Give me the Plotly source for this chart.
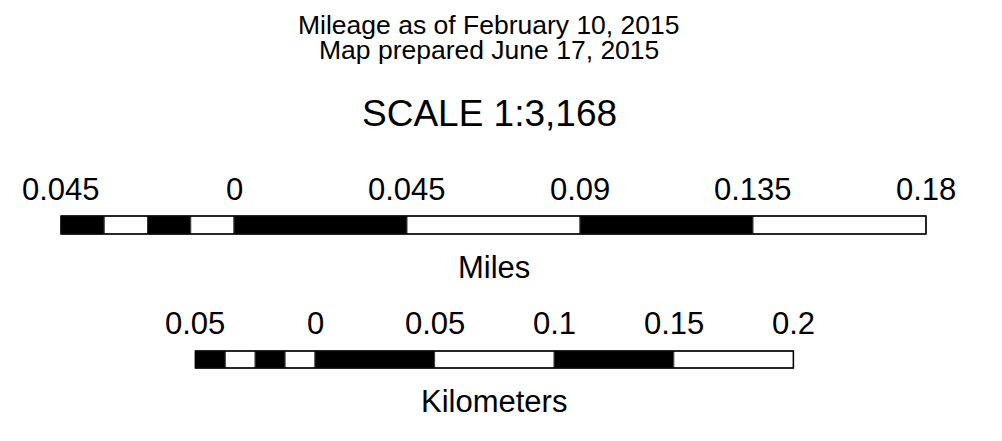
import plotly.graph_objects as go

# ---- data ----
title_lines = ["Mileage as of February 10, 2015", "Map prepared June 17, 2015"]
scale_text = "SCALE 1:3,168"

miles_edges = [-0.045, -0.03375, -0.0225, -0.01125, 0.0, 0.045, 0.09, 0.135, 0.18]
miles_ticks = [-0.045, 0.0, 0.045, 0.09, 0.135, 0.18]
miles_labels = ["0.045", "0", "0.045", "0.09", "0.135", "0.18"]
miles_unit = "Miles"

km_edges = [-0.05, -0.0375, -0.025, -0.0125, 0.0, 0.05, 0.1, 0.15, 0.2]
km_ticks = [-0.05, 0.0, 0.05, 0.1, 0.15, 0.2]
km_labels = ["0.05", "0", "0.05", "0.1", "0.15", "0.2"]
km_unit = "Kilometers"

# ---- layout geometry ----
W, H = 1002, 441
px_per_mile = 3844.4
px_per_km = 2392.0
miles_zero_px = 234.0
km_zero_px = 315.0
mi_r0 = -miles_zero_px / px_per_mile
mi_range = [mi_r0, mi_r0 + W / px_per_mile]
km_r0 = -km_zero_px / px_per_km
km_range = [km_r0, km_r0 + W / px_per_km]

FONT = "Arial, Liberation Sans, sans-serif"

fig = go.Figure()
fig.add_trace(go.Scatter(x=[], y=[], xaxis="x", yaxis="y", showlegend=False))
fig.add_trace(go.Scatter(x=[], y=[], xaxis="x2", yaxis="y", showlegend=False))

shapes = []
annotations = []

def bar(edges, xref, y0, y1):
    for i in range(len(edges) - 1):
        shapes.append(dict(type="rect", xref=xref, yref="y",
                           x0=edges[i], x1=edges[i + 1], y0=y0, y1=y1,
                           fillcolor="black" if i % 2 == 0 else "white",
                           line=dict(color="#333333", width=1), layer="above"))
    shapes.append(dict(type="rect", xref=xref, yref="y",
                       x0=edges[0], x1=edges[-1], y0=y0, y1=y1,
                       fillcolor="rgba(0,0,0,0)",
                       line=dict(color="black", width=1.5), layer="above"))

bar(miles_edges, "x", 216, 234)
bar(km_edges, "x2", 351, 368)

for v, t in zip(miles_ticks, miles_labels):
    annotations.append(dict(x=v, y=189, xref="x", yref="y", text=t, showarrow=False,
                            xanchor="center", yanchor="middle",
                            font=dict(family=FONT, size=31, color="black")))
for v, t in zip(km_ticks, km_labels):
    annotations.append(dict(x=v, y=323.5, xref="x2", yref="y", text=t, showarrow=False,
                            xanchor="center", yanchor="middle",
                            font=dict(family=FONT, size=31, color="black")))

annotations.append(dict(x=(miles_edges[0] + miles_edges[-1]) / 2, y=267, xref="x", yref="y",
                        text=miles_unit, showarrow=False, xanchor="center", yanchor="middle",
                        font=dict(family=FONT, size=31, color="black")))
annotations.append(dict(x=(km_edges[0] + km_edges[-1]) / 2, y=401, xref="x2", yref="y",
                        text=km_unit, showarrow=False, xanchor="center", yanchor="middle",
                        font=dict(family=FONT, size=31, color="black")))

title_cx = 489 / W
for yy, t in zip([24.5, 50], title_lines):
    annotations.append(dict(x=title_cx, y=yy, xref="paper", yref="y", text=t, showarrow=False,
                            xanchor="center", yanchor="middle",
                            font=dict(family=FONT, size=26.5, color="black")))
annotations.append(dict(x=title_cx, y=113, xref="paper", yref="y", text=scale_text,
                        showarrow=False, xanchor="center", yanchor="middle",
                        font=dict(family=FONT, size=37, color="black")))

fig.update_layout(
    width=W, height=H, autosize=False,
    margin=dict(l=0, r=0, t=0, b=0),
    paper_bgcolor="white", plot_bgcolor="white",
    xaxis=dict(range=mi_range, visible=False, domain=[0, 1]),
    xaxis2=dict(range=km_range, visible=False, overlaying="x", anchor="y"),
    yaxis=dict(range=[H, 0], visible=False, domain=[0, 1]),
    shapes=shapes, annotations=annotations, showlegend=False,
)

fig.write_html("out.html",
               config={"displayModeBar": False, "staticPlot": True},
               post_script="document.body.style.margin='0';document.body.style.overflow='hidden';")
